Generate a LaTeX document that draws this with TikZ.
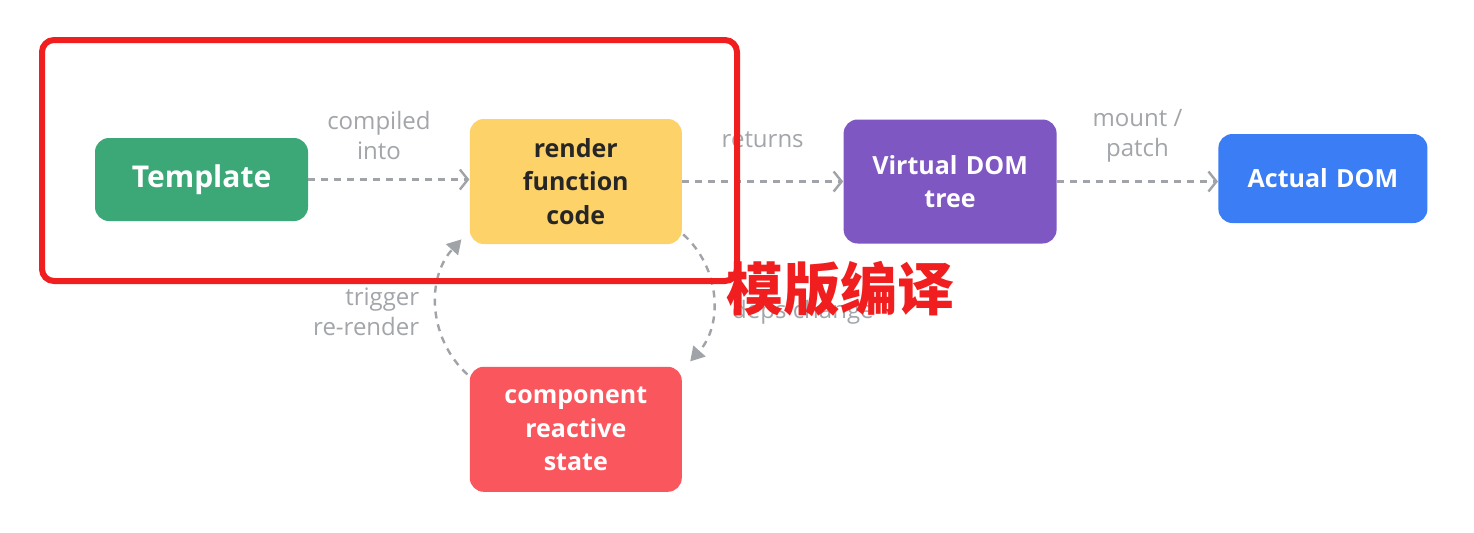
\documentclass[tikz,border=0pt]{standalone}
\usepackage{fontspec}
\setmainfont{Open Sans}
\newfontfamily\cjk{Noto Sans CJK SC}
\usetikzlibrary{arrows.meta,positioning}
\definecolor{tplgreen}{HTML}{3CA878}
\definecolor{rfyellow}{HTML}{FDD268}
\definecolor{vdpurple}{HTML}{7E57C2}
\definecolor{dmblue}{HTML}{3B7DF4}
\definecolor{stred}{HTML}{FA565E}
\definecolor{notegray}{HTML}{A2A5A9}
\definecolor{arrowgray}{HTML}{A0A3A8}
\definecolor{framered}{HTML}{F01E1E}
\tikzstyle{stage} = [rectangle,rounded corners=7pt,inner sep=0,text width=100pt,align=center,text=white,font=\fontsize{12.5}{16.75}\selectfont\bfseries]
\tikzstyle{flow} = [draw=arrowgray,line width=1.2pt,dash pattern=on 3.5pt off 3pt,-{Straight Barb[length=4pt,width=10pt,line width=1.2pt]}]
\tikzstyle{loop} = [draw=arrowgray,line width=1.2pt,dash pattern=on 3.5pt off 3pt,-{Triangle[length=7pt,width=8pt]}]
\tikzstyle{note} = [text=notegray,align=center,inner sep=0,font=\fontsize{12}{15}\selectfont]
\tikzstyle{frame} = [draw=framered,line width=3pt,rounded corners=6pt]
\tikzstyle{cnlabel} = [text=framered,inner sep=0,font=\cjk\bfseries\fontsize{28.5}{30}\selectfont]
\def \tu {80.5pt}

\begin{document}
\begin{tikzpicture}[x=0.5pt,y=-0.5pt,node distance=\tu]
  \useasboundingbox[fill=white] (0,0) rectangle (1474,532);
  \node[stage,fill=tplgreen,minimum width=106.5pt,minimum height=41.5pt,font=\fontsize{15}{18}\selectfont\bfseries] (tmpl) at (201.5,179.5) {Template};
  \node[stage,fill=rfyellow,text=black!85,minimum width=106pt,minimum height=62.5pt,right=of tmpl,yshift=-1pt] (render) {render\\function\\code};
  \node[stage,fill=vdpurple,minimum width=106.5pt,minimum height=62pt,right=of render] (vdom) {Virtual DOM\\tree};
  \node[stage,fill=dmblue,minimum width=104.5pt,minimum height=44.5pt,right=of vdom,yshift=1.5pt] (actual) {Actual DOM};
  \node[stage,fill=stred,minimum width=106pt,minimum height=62.5pt,below=61pt of render] (comp) {component\\reactive\\state};
  % main pipeline
  \draw[flow] (tmpl.east) -- node[note,yshift=22pt,xshift=-5pt] {compiled\\into} (tmpl.east -| render.west);
  \draw[flow] (render.east) -- node[note,yshift=21pt] {returns} (render.east -| vdom.west);
  \draw[flow] (vdom.east) -- node[note,yshift=23pt] {mount /\\patch} (vdom.east -| actual.west);
  % reactivity loop
  \draw[loop] ([xshift=-1pt,yshift=-4pt]comp.north west) to[bend left=45] node[note,left=8pt,align=right,yshift=-2pt] {trigger\\re-render} ([xshift=-4pt,yshift=2.5pt]render.south west);
  \draw[loop] ([xshift=0.5pt,yshift=5pt]render.south east) to[bend left=45] node[note,anchor=west,xshift=9pt,yshift=-8pt] {deps change} ([xshift=4pt,yshift=2.5pt]comp.north east);
  % annotation
  \draw[frame] (42,40) rectangle (737,281);
  \node[cnlabel] (cnnote) at (840,289) {模版编译};
\end{tikzpicture}
\end{document}
